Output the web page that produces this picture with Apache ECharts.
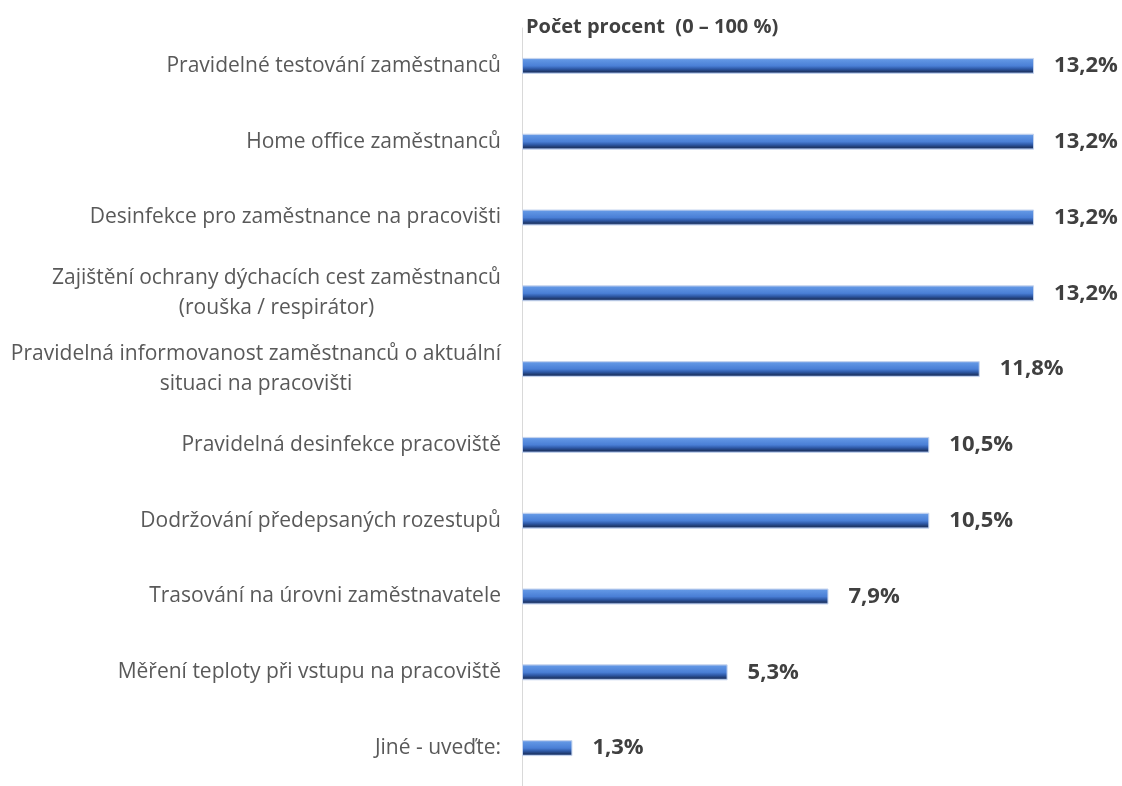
<!DOCTYPE html>
<html>
<head>
<meta charset="utf-8">
<script src="https://cdn.jsdelivr.net/npm/echarts@6/dist/echarts.min.js"></script>
<style>
  html, body { margin: 0; padding: 0; background: #fff; }
  #chart { width: 1122px; height: 786px; }
</style>
</head>
<body>
<div id="chart"></div>
<script>
// categories from top to bottom
var categories = [
  'Pravidelné testování zaměstnanců',
  'Home office zaměstnanců',
  'Desinfekce pro zaměstnance na pracovišti',
  'Zajištění ochrany dýchacích cest zaměstnanců\n(rouška / respirátor)',
  'Pravidelná informovanost zaměstnanců o aktuální\nsituaci na pracovišti',
  'Pravidelná desinfekce pracoviště',
  'Dodržování předepsaných rozestupů',
  'Trasování na úrovni zaměstnavatele',
  'Měření teploty při vstupu na pracoviště',
  'Jiné - uveďte:'
];
var values = [13.2, 13.2, 13.2, 13.2, 11.8, 10.5, 10.5, 7.9, 5.3, 1.3];
var axisTitle = 'Počet procent  (0 – 100 %)';

var mychart = echarts.init(document.getElementById('chart'));

// bevelled look: light top edge, blue body, dark lower band
var barFill = new echarts.graphic.LinearGradient(0, 0, 0, 1, [
  { offset: 0, color: '#9db8ea' },
  { offset: 0.12, color: '#6196e4' },
  { offset: 0.5, color: '#4a7fd6' },
  { offset: 0.68, color: '#2f5aa8' },
  { offset: 0.86, color: '#1d3668' },
  { offset: 1, color: '#93acdd' }
]);

mychart.setOption({
  animation: false,
  title: {
    text: axisTitle,
    left: 521,
    top: 12,
    textStyle: {
      fontFamily: 'Open Sans',
      fontSize: 20,
      fontWeight: 'bold',
      color: '#404040'
    }
  },
  grid: {
    left: 522,
    top: 28,
    width: 578,
    height: 760
  },
  xAxis: {
    type: 'value',
    min: 0,
    max: 14.9,
    show: false
  },
  yAxis: {
    type: 'category',
    data: categories,
    inverse: true,
    axisTick: { show: false },
    axisLine: { lineStyle: { color: '#d9d9d9', width: 1 } },
    axisLabel: {
      margin: 21,
      fontFamily: 'Open Sans',
      fontSize: 21,
      color: '#595959',
      lineHeight: 30,
      formatter: function (v) {
        return v.split('\n').map(function (s) { return '{c|' + s + '}'; }).join('\n');
      },
      rich: {
        c: {
          align: 'center',
          fontFamily: 'Open Sans',
          fontSize: 21,
          color: '#595959',
          lineHeight: 30
        }
      }
    }
  },
  series: [
    {
      type: 'bar',
      data: values,
      barWidth: 16,
      itemStyle: {
        color: barFill,
        borderColor: '#c5d4ee',
        borderWidth: 1
      },
      label: {
        show: true,
        position: 'right',
        distance: 20,
        fontFamily: 'Open Sans',
        fontSize: 22,
        fontWeight: 'bold',
        color: '#404040',
        formatter: function (p) {
          return p.value.toFixed(1).replace('.', ',') + '%';
        }
      }
    }
  ]
});
</script>
</body>
</html>
